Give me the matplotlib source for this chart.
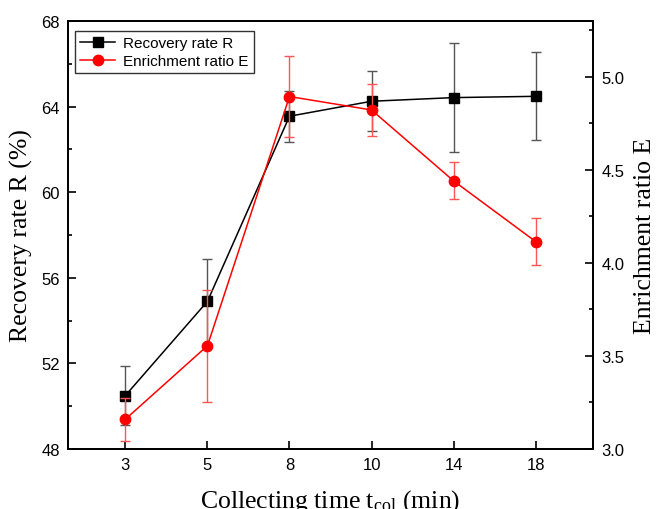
import matplotlib
matplotlib.use("Agg")
import matplotlib.pyplot as plt
from matplotlib.ticker import MultipleLocator, FormatStrFormatter
import numpy as np

times = ["3", "5", "8", "10", "14", "18"]
recovery = [50.5, 54.9, 63.55, 64.25, 64.42, 64.48]
recovery_err = [1.4, 2.0, 1.2, 1.4, 2.54, 2.06]
enrichment = [3.16, 3.555, 4.894, 4.822, 4.441, 4.115]
enrichment_err = [0.115, 0.30, 0.217, 0.138, 0.10, 0.124]

sans = "Liberation Sans"
serif = "Liberation Serif"

plt.rcParams["mathtext.fontset"] = "custom"
plt.rcParams["mathtext.rm"] = serif
plt.rcParams["mathtext.it"] = serif + ":italic"
plt.rcParams["mathtext.bf"] = serif + ":bold"

fig = plt.figure(figsize=(6.56, 5.10), dpi=100)
ax = fig.add_axes([68/656, 60/510, 525/656, 428/510])
ax2 = ax.twinx()

x = np.arange(len(times))

l1 = ax.errorbar(x, recovery, yerr=recovery_err, color="black", marker="s",
                 markersize=6.5, linewidth=1.1, ecolor="#555555", elinewidth=1.0,
                 capsize=3.5, capthick=1.0, label="Recovery rate R")
l2 = ax2.errorbar(x, enrichment, yerr=enrichment_err, color="#ff0000", marker="o",
                  markersize=7.5, linewidth=1.1, ecolor="#ff5555", elinewidth=1.0,
                  capsize=3.5, capthick=1.0, label="Enrichment ratio E")

ax.set_xlim(-0.7, 5.7)
ax.set_ylim(48, 68)
ax2.set_ylim(3.0, 5.3)

ax.set_xticks(x)
ax.set_xticklabels(times)
ax.yaxis.set_major_locator(MultipleLocator(4))
ax.yaxis.set_minor_locator(MultipleLocator(2))
ax2.yaxis.set_major_locator(MultipleLocator(0.5))
ax2.yaxis.set_minor_locator(MultipleLocator(0.25))
ax2.yaxis.set_major_formatter(FormatStrFormatter("%.1f"))

for a in (ax, ax2):
    for s in a.spines.values():
        s.set_linewidth(1.3)

ax.tick_params(axis="both", which="major", direction="in", length=5.5, width=1.2,
               labelsize=12, pad=6)
ax.tick_params(axis="y", which="minor", direction="in", length=3, width=1.2)
ax.tick_params(axis="x", which="both", top=False)
ax2.tick_params(axis="y", which="major", direction="in", length=5.5, width=1.2,
                labelsize=12, pad=6)
ax2.tick_params(axis="y", which="minor", direction="in", length=3, width=1.2)

for lab in ax.get_xticklabels() + ax.get_yticklabels() + ax2.get_yticklabels():
    lab.set_fontfamily(sans)

ax.set_xlabel(r"Collecting time t$_{\rm col}$ (min)", fontsize=18.5, family=serif, labelpad=11)
ax.set_ylabel("Recovery rate R (%)", fontsize=18.5, family=serif, labelpad=6)
ax2.set_ylabel("Enrichment ratio E", fontsize=18.5, family=serif, labelpad=7)

leg = ax.legend(handles=[l1[0], l2[0]], labels=["Recovery rate R", "Enrichment ratio E"],
                loc="upper left", bbox_to_anchor=(0.013, 0.977),
                prop={"family": sans, "size": 11}, frameon=True, fancybox=False,
                edgecolor="black", handlelength=2.3, borderpad=0.35, labelspacing=0.25,
                handletextpad=0.5, borderaxespad=0.0)
leg.get_frame().set_linewidth(1.0)
leg.set_zorder(10)

fig.savefig("out.png", dpi=100)
